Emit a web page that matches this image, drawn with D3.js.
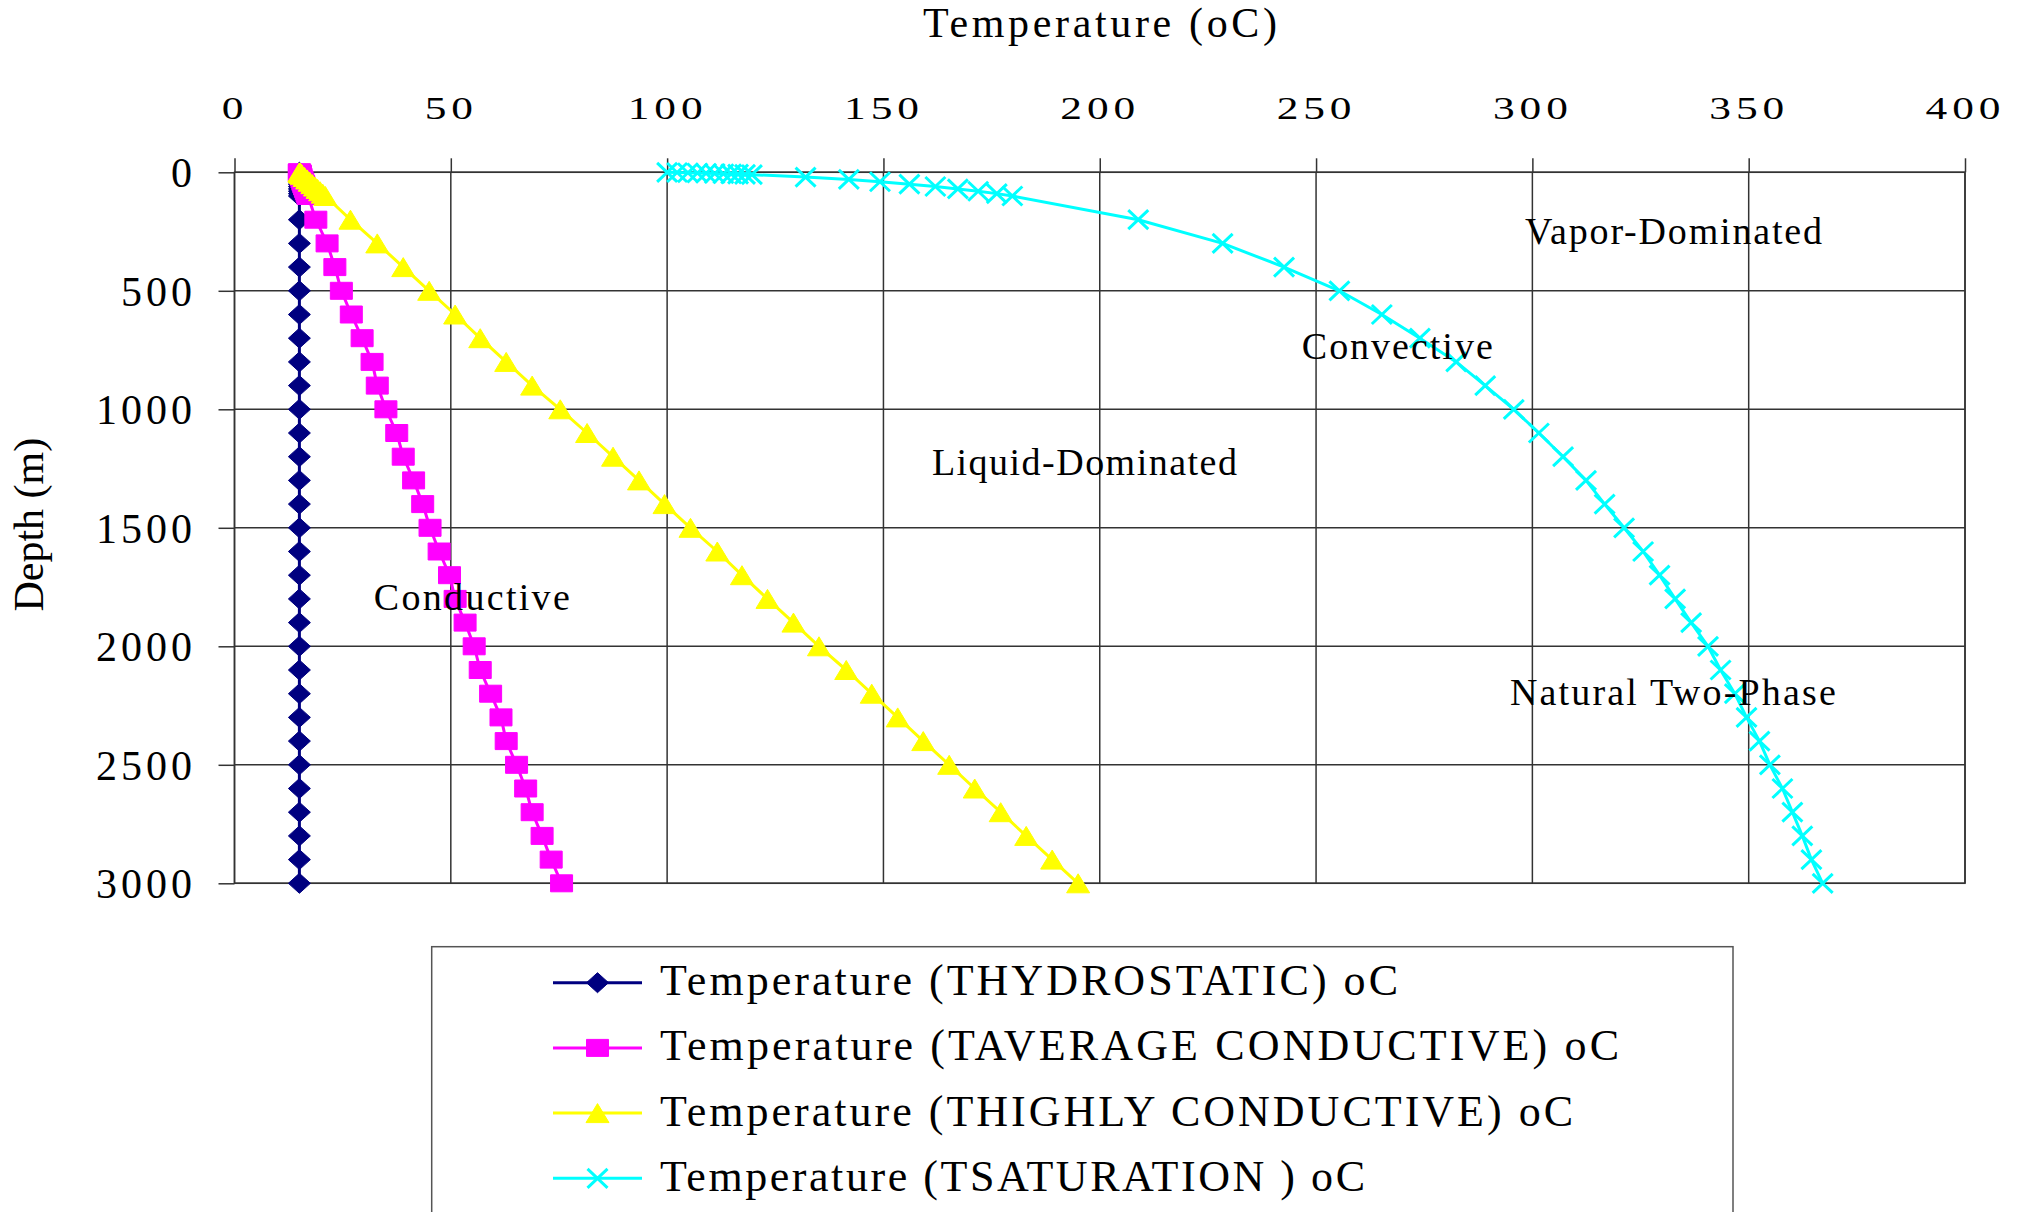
<!DOCTYPE html>
<html>
<head>
<meta charset="utf-8">
<script src="https://cdn.jsdelivr.net/npm/d3@7"></script>
<style>
  body { margin: 0; background: #fff; }
  svg { display: block; }
  svg text { font-family: "Liberation Serif", "Nimbus Roman", "Times New Roman", Times, serif !important; fill: #000; }
</style>
</head>
<body>
<div id="chart"></div>
<script>
// depths (m) at which every profile was computed
let depths = [0, 1, 2, 3, 4, 5, 6, 7, 8, 9, 10,
              20, 30, 40, 50, 60, 70, 80, 90, 100,
              200, 300, 400, 500, 600, 700, 800, 900, 1000, 1100, 1200, 1300, 1400, 1500,
              1600, 1700, 1800, 1900, 2000, 2100, 2200, 2300, 2400, 2500, 2600, 2700, 2800, 2900, 3000];

let t_hydrostatic = [15, 15, 15, 15, 15, 15, 15, 15, 15, 15, 15,
                     15, 15, 15, 15, 15, 15, 15, 15, 15,
                     15, 15, 15, 15, 15, 15, 15, 15, 15, 15, 15, 15, 15, 15,
                     15, 15, 15, 15, 15, 15, 15, 15, 15, 15, 15, 15, 15, 15, 15];

let t_average = [15.0, 15.0, 15.0, 15.1, 15.1, 15.1, 15.1, 15.1, 15.2, 15.2, 15.2,
                 15.4, 15.6, 15.8, 16.0, 16.2, 16.4, 16.6, 16.8, 17.0,
                 18.8, 21.4, 23.2, 24.7, 27.0, 29.5, 31.8, 33.0, 35.0, 37.5, 39.0, 41.4, 43.5, 45.2,
                 47.3, 49.7, 51.0, 53.3, 55.4, 56.8, 59.2, 61.6, 62.8, 65.2, 67.3, 68.8, 71.1, 73.2, 75.6];

let t_highly = [15.0, 15.1, 15.1, 15.2, 15.2, 15.3, 15.4, 15.4, 15.5, 15.5, 15.6,
                16.2, 16.8, 17.4, 18.0, 18.6, 19.2, 19.8, 20.4, 21.0,
                26.8, 33.0, 39.0, 45.0, 51.0, 56.8, 62.8, 68.8, 75.3, 81.5, 87.5, 93.5, 99.4, 105.4,
                111.6, 117.3, 123.2, 129.2, 135.1, 141.4, 147.3, 153.3, 159.2, 165.2, 171.1, 177.1, 183.0, 189.0, 195.0];

let t_saturation = [100.0, 102.3, 104.8, 107.0, 109.0, 111.0, 113.0, 114.8, 116.4, 118.0, 119.6,
                    132.0, 142.0, 149.2, 156.0, 162.0, 167.2, 171.9, 176.2, 179.8,
                    208.9, 228.4, 242.6, 255.4, 265.2, 274.0, 282.4, 289.1, 295.7, 301.5, 307.1, 312.4, 316.7, 321.2,
                    325.6, 329.4, 333.0, 336.7, 340.6, 343.5, 346.8, 349.5, 352.5, 354.9, 357.8, 360.1, 362.4, 364.5, 367.1];

let series_names = ["Temperature (THYDROSTATIC) oC",
                    "Temperature (TAVERAGE CONDUCTIVE) oC",
                    "Temperature (THIGHLY CONDUCTIVE) oC",
                    "Temperature (TSATURATION ) oC"];

let x_ticks = [0, 50, 100, 150, 200, 250, 300, 350, 400];
let y_ticks = [0, 500, 1000, 1500, 2000, 2500, 3000];

let x_title = "Temperature (oC)";
let y_title = "Depth (m)";

// region labels, anchored at (temperature, depth) of their baseline start
let region_labels = ["Vapor-Dominated", "Convective", "Liquid-Dominated", "Conductive", "Natural Two-Phase"];
let region_temps  = [298.3, 246.7, 161.2, 32.2, 294.8];
let region_depths = [302, 788, 1277, 1847, 2248];

// ---- layout / style ----
let width = 2019, height = 1212;
let region_widths = [297, 191, 305, 196, 326];
let legend_widths = [738, 959, 913, 705];
let colors = ["#000080", "#ff00ff", "#ffff00", "#00ffff"];
let markers = ["diamond", "square", "triangle", "cross"];
let grid_color = "#333";

function marker_path(type) {
    if (type == "diamond") return "M0,-10L11,0L0,10L-11,0Z";
    if (type == "square") return "M-11,-8.5H11V8.5H-11Z";
    if (type == "triangle") return "M0,-9.5L11.5,9.5L-11.5,9.5Z";
    return "M-10,-9.5L10,9.5M10,-9.5L-10,9.5";
}

function draw_marker(sel, type, color) {
    sel.attr("d", marker_path(type))
       .attr("fill", type == "cross" ? "none" : color)
       .attr("stroke", color)
       .attr("stroke-width", type == "cross" ? 3 : 1);
}

let x = d3.scaleLinear().domain([0, 400]).range([234.5, 1965]);
let y = d3.scaleLinear().domain([0, 3000]).range([172.3, 883.3]);

let svg = d3.select("#chart").append("svg")
            .attr("width", width)
            .attr("height", height)
            .attr("font-family", "Liberation Serif, serif");

svg.append("rect").attr("width", width).attr("height", height).attr("fill", "#fff");

// grid
let grid = svg.append("g");
grid.selectAll("line.v")
    .data(x_ticks)
    .join("line")
    .attr("class", "v")
    .attr("x1", d => x(d)).attr("x2", d => x(d))
    .attr("y1", y(0)).attr("y2", y(3000))
    .attr("stroke", grid_color).attr("stroke-width", 1.5);
grid.selectAll("line.h")
    .data(y_ticks)
    .join("line")
    .attr("class", "h")
    .attr("x1", x(0)).attr("x2", x(400))
    .attr("y1", d => y(d)).attr("y2", d => y(d))
    .attr("stroke", grid_color).attr("stroke-width", 1.5);
grid.append("rect")
    .attr("x", x(0)).attr("y", y(0))
    .attr("width", x(400) - x(0)).attr("height", y(3000) - y(0))
    .attr("fill", "none").attr("stroke", grid_color).attr("stroke-width", 1.5);

// top axis
let top_axis = svg.append("g")
    .attr("transform", `translate(0,${y(0)})`)
    .call(d3.axisTop(x).tickValues(x_ticks).tickFormat(d3.format("d")).tickSize(14).tickSizeOuter(0));
top_axis.attr("font-family", null);
top_axis.select(".domain").remove();
top_axis.selectAll(".tick line").attr("stroke", grid_color).attr("stroke-width", 1.5);
top_axis.selectAll(".tick text")
    .attr("y", -53).attr("dy", 0)
    .attr("font-size", 31)
    .attr("letter-spacing", 3.5)
    .attr("transform", "scale(1.4,1)")
    .attr("fill", "#000");

// left axis
let left_axis = svg.append("g")
    .attr("transform", `translate(${x(0)},0)`)
    .call(d3.axisLeft(y).tickValues(y_ticks).tickFormat(d3.format("d")).tickSize(16).tickSizeOuter(0));
left_axis.attr("font-family", null);
left_axis.select(".domain").remove();
left_axis.selectAll(".tick line").attr("stroke", grid_color).attr("stroke-width", 1.5);
left_axis.selectAll(".tick text")
    .attr("x", -38.5).attr("dy", "0.34em")
    .attr("font-size", 42)
    .attr("letter-spacing", 4)
    .attr("fill", "#000");

// axis titles
svg.append("text")
   .attr("x", 923).attr("y", 37.3)
   .attr("font-size", 42)
   .attr("textLength", 354).attr("lengthAdjust", "spacing")
   .text(x_title);

svg.append("text")
   .attr("transform", "translate(43.3,524.7) rotate(-90)")
   .attr("text-anchor", "middle")
   .attr("font-size", 42)
   .text(y_title);

// series
let all_series = [t_hydrostatic, t_average, t_highly, t_saturation];
let line = d3.line().x(d => x(d[0])).y(d => y(d[1]));

all_series.forEach((temps, i) => {
    let pts = temps.map((t, j) => [t, depths[j]]);
    let g = svg.append("g");
    g.append("path")
     .datum(pts)
     .attr("d", line)
     .attr("fill", "none")
     .attr("stroke", colors[i])
     .attr("stroke-width", 3)
     .attr("stroke-linejoin", "round");
    g.selectAll("path.m")
     .data(pts)
     .join("path")
     .attr("class", "m")
     .attr("transform", d => `translate(${x(d[0])},${y(d[1])})`)
     .call(draw_marker, markers[i], colors[i]);
});

// region labels
svg.append("g")
   .selectAll("text")
   .data(region_labels)
   .join("text")
   .attr("x", (d, i) => x(region_temps[i]))
   .attr("y", (d, i) => y(region_depths[i]))
   .attr("font-size", 38)
   .attr("textLength", (d, i) => region_widths[i])
   .attr("lengthAdjust", "spacing")
   .text(d => d);

// legend
let legend = svg.append("g");
legend.append("rect")
      .attr("x", 431.7).attr("y", 946.7)
      .attr("width", 1301.3).attr("height", 300)
      .attr("fill", "#fff")
      .attr("stroke", "#555").attr("stroke-width", 1.5);

let entry = legend.selectAll("g.entry")
    .data(series_names)
    .join("g")
    .attr("class", "entry")
    .attr("transform", (d, i) => `translate(0,${982.7 + i * 65.2})`);
entry.append("line")
     .attr("x1", 553).attr("x2", 642)
     .attr("stroke", (d, i) => colors[i])
     .attr("stroke-width", 3);
entry.append("path")
     .attr("transform", "translate(597.5,0)")
     .each(function(d, i) { d3.select(this).call(draw_marker, markers[i], colors[i]); });
entry.append("text")
     .attr("x", 660).attr("y", 12.5)
     .attr("font-size", 44)
     .attr("textLength", (d, i) => legend_widths[i])
     .attr("lengthAdjust", "spacing")
     .text(d => d);
</script>
</body>
</html>
